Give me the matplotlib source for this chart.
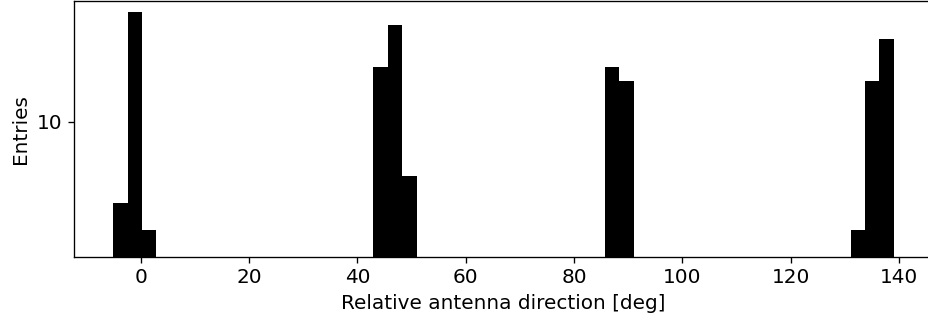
import numpy as np
import matplotlib
matplotlib.use("Agg")
from matplotlib import pyplot as plt
from matplotlib.ticker import NullLocator

# Histogram binning (54 bins over the data range)
bin_lo = -5.12
bin_hi = 139.08
n_bins = 54

# Non-empty bins: bin centre [deg] and entries
direction_deg = [-3.8, -1.1, 1.6, 44.4, 47.0, 49.7, 87.0, 89.7, 132.4, 135.0, 137.7]
entries = [5.96, 20.1, 5.02, 14.2, 18.5, 7.08, 14.2, 13.0, 5.02, 13.0, 16.9]

DPI = 120
fig = plt.figure(figsize=(928 / DPI, 322 / DPI), dpi=DPI)
ax = fig.add_axes([74 / 928, 65.3 / 322, (933 - 74) / 928, (321 - 65.3) / 322])

edges = np.linspace(bin_lo, bin_hi, n_bins + 1)
ax.hist(direction_deg, bins=edges, weights=entries, color="black", log=True)

ax.set_ylim(4.22, 21.6)
ax.set_yticks([10])
ax.set_yticklabels(["10"])
ax.yaxis.set_minor_locator(NullLocator())

ax.tick_params(labelsize=12)
ax.set_xlabel("Relative antenna direction [deg]", fontsize=12)
ax.set_ylabel("Entries", fontsize=12)

fig.savefig("out.png", dpi=DPI)
